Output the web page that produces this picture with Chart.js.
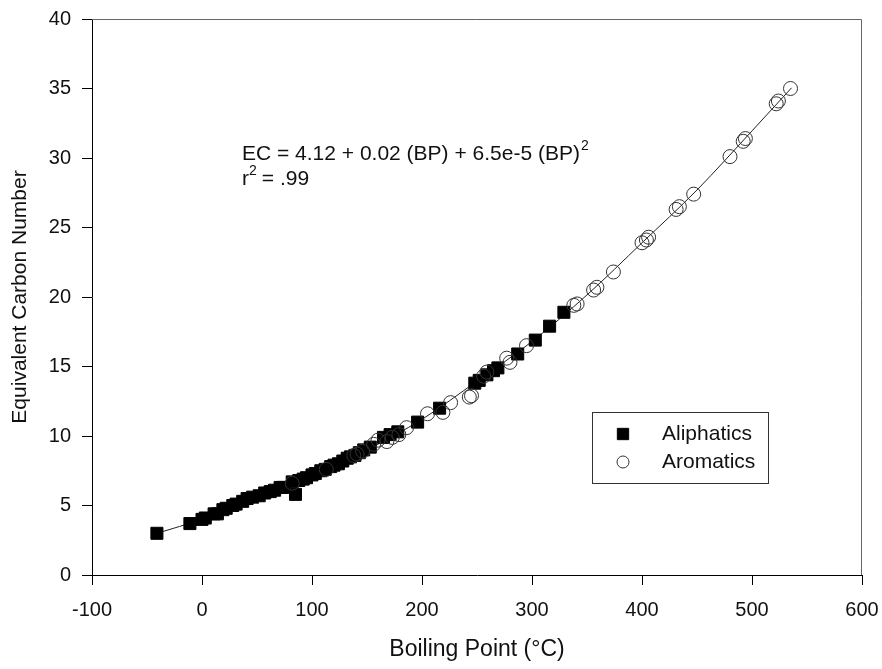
<!DOCTYPE html>
<html>
<head>
<meta charset="utf-8">
<script src="https://cdn.jsdelivr.net/npm/chart.js@4/dist/chart.umd.min.js"></script>
<style>
  html, body { margin: 0; padding: 0; background: #fff; }
</style>
</head>
<body>
<canvas id="chart" width="882" height="669"></canvas>
<script>
// Boiling point (°C) vs equivalent carbon number
const aliphatics = [
  [-41, 3.0], [-11, 3.7], [0, 4.0], [3, 4.1], [11, 4.4], [14, 4.4], [19, 4.7], [22, 4.8],
  [28, 5.0], [31, 5.1], [37, 5.3], [41, 5.5], [46, 5.6], [52, 5.7], [57, 5.9], [62, 6.0],
  [66, 6.1], [71, 6.3], [74, 6.3], [82, 6.7], [85, 5.8], [88, 6.8], [92, 6.9], [95, 7.0],
  [100, 7.2], [103, 7.3], [108, 7.5], [112, 7.6], [117, 7.8], [120, 7.9], [124, 8.0], [128, 8.2],
  [132, 8.4], [135, 8.5], [139, 8.6], [143, 8.8], [147, 9.0], [153, 9.2], [165, 9.9], [171, 10.1],
  [178, 10.3], [196, 11.0], [216, 12.0], [248, 13.8], [252, 14.0], [259, 14.4], [265, 14.7], [269, 14.9],
  [287, 15.9], [303, 16.9], [316, 17.9], [329, 18.9]
];
const aromatics = [
  [82, 6.6], [113, 7.6], [138, 8.6], [141, 8.7], [146, 8.9], [156, 9.4], [160, 9.7], [168, 9.6],
  [173, 9.9], [179, 10.1], [186, 10.6], [205, 11.6], [219, 11.7], [226, 12.4], [243, 12.8], [245, 12.9],
  [256, 14.3], [259, 14.6], [277, 15.6], [280, 15.3], [295, 16.5], [338, 19.4], [341, 19.5], [356, 20.5],
  [359, 20.7], [374, 21.8], [400, 23.9], [404, 24.1], [406, 24.3], [431, 26.3], [434, 26.5], [447, 27.4],
  [480, 30.1], [492, 31.2], [494, 31.4], [522, 33.9], [524, 34.1], [535, 35.0]
];
// regression curve as drawn in the figure
const fitCurve = [
  [-41, 3.0], [0, 4.0], [50, 5.45], [100, 7.05], [150, 9.0], [200, 11.2], [250, 13.95],
  [300, 16.8], [350, 20.15], [400, 23.9], [450, 27.7], [500, 31.95], [536, 35.05]
];
const xTicks = [-100, 0, 100, 200, 300, 400, 500, 600];
const yTicks = [0, 5, 10, 15, 20, 25, 30, 35, 40];
const equationLines = ['EC = 4.12 + 0.02 (BP) + 6.5e-5 (BP)', 'r', ' = .99'];

const FONT = '"Liberation Sans", Arial, Helvetica, sans-serif';
const toXY = arr => arr.map(([x, y]) => ({ x, y }));

const framePlugin = {
  id: 'frame',
  afterDatasetsDraw(chart) {
    const { ctx, chartArea: a } = chart;
    ctx.save();
    ctx.strokeStyle = '#666';
    ctx.lineWidth = 1;
    ctx.beginPath();
    ctx.moveTo(a.left, a.top + 0.5);
    ctx.lineTo(a.right - 0.5, a.top + 0.5);
    ctx.lineTo(a.right - 0.5, a.bottom);
    ctx.stroke();
    ctx.restore();
  }
};

const notesPlugin = {
  id: 'notes',
  afterDraw(chart) {
    const { ctx } = chart;
    ctx.save();
    ctx.fillStyle = '#111';
    ctx.textBaseline = 'alphabetic';
    ctx.textAlign = 'left';
    // equation
    const ex = 242, ey = 160;
    ctx.font = '21px ' + FONT;
    ctx.fillText(equationLines[0], ex, ey);
    let w = ctx.measureText(equationLines[0]).width;
    ctx.font = '14px ' + FONT;
    ctx.fillText('2', ex + w + 1, ey - 10);
    ctx.font = '21px ' + FONT;
    ctx.fillText(equationLines[1], ex, ey + 25);
    w = ctx.measureText(equationLines[1]).width;
    ctx.font = '14px ' + FONT;
    ctx.fillText('2', ex + w, ey + 25 - 10);
    ctx.font = '21px ' + FONT;
    ctx.fillText(equationLines[2], ex + w + 7, ey + 25);

    // legend box
    const bx = 592, by = 412, bw = 176, bh = 71;
    ctx.strokeStyle = '#333';
    ctx.lineWidth = 1;
    ctx.strokeRect(bx + 0.5, by + 0.5, bw, bh);
    chart.data.datasets.filter(d => d.inLegend).forEach((d, i) => {
      const y = by + 22 + i * 28;
      ctx.fillStyle = d.pointStyle === 'rect' ? d.backgroundColor : '#fff';
      ctx.strokeStyle = d.borderColor;
      ctx.lineWidth = d.borderWidth;
      ctx.beginPath();
      if (d.pointStyle === 'rect') {
        const s = d.legendRadius * Math.SQRT1_2;
        ctx.rect(bx + 31 - s, y - s, 2 * s, 2 * s);
      } else {
        ctx.arc(bx + 31, y, d.legendRadius, 0, Math.PI * 2);
      }
      ctx.fill();
      ctx.stroke();
      ctx.fillStyle = '#111';
      ctx.font = '21px ' + FONT;
      ctx.textBaseline = 'middle';
      ctx.fillText(d.label, bx + 70, y);
    });
    ctx.restore();
  }
};

new Chart(document.getElementById('chart').getContext('2d'), {
  type: 'scatter',
  data: {
    datasets: [
      {
        type: 'line',
        label: 'Fit',
        data: toXY(fitCurve),
        borderColor: '#222',
        borderWidth: 1,
        pointRadius: 0,
        fill: false,
        cubicInterpolationMode: 'monotone',
        order: 3
      },
      {
        label: 'Aliphatics',
        inLegend: true,
        data: toXY(aliphatics),
        pointStyle: 'rect',
        pointRadius: 8.5,
        legendRadius: 8,
        backgroundColor: '#000',
        borderColor: '#000',
        borderWidth: 1,
        order: 2
      },
      {
        label: 'Aromatics',
        inLegend: true,
        data: toXY(aromatics),
        pointStyle: 'circle',
        pointRadius: 7,
        legendRadius: 6,
        backgroundColor: 'rgba(0,0,0,0)',
        borderColor: '#333',
        borderWidth: 1,
        order: 1
      }
    ]
  },
  options: {
    responsive: false,
    animation: false,
    layout: { padding: { top: 19, right: 20, left: 0, bottom: 0 } },
    plugins: {
      legend: { display: false },
      tooltip: { enabled: false }
    },
    scales: {
      x: {
        type: 'linear',
        min: -100,
        max: 600,
        afterBuildTicks: s => { s.ticks = xTicks.map(v => ({ value: v })); },
        afterFit: s => { s.height = 94; s.paddingLeft = 0; s.paddingRight = 0; },
        grid: { drawOnChartArea: false, tickLength: 10, color: '#000' },
        border: { color: '#000', width: 1 },
        ticks: { color: '#111', padding: 13, font: { family: FONT, size: 20 } },
        title: {
          display: true,
          text: 'Boiling Point (°C)',
          color: '#111',
          padding: { top: 0, bottom: 6 },
          font: { family: FONT, size: 23 }
        }
      },
      y: {
        type: 'linear',
        min: 0,
        max: 40,
        afterBuildTicks: s => { s.ticks = yTicks.map(v => ({ value: v })); },
        afterFit: s => { s.width = 92; s.paddingTop = 0; s.paddingBottom = 0; },
        grid: { drawOnChartArea: false, tickLength: 10, color: '#000' },
        border: { color: '#000', width: 1 },
        ticks: { color: '#111', padding: 11, font: { family: FONT, size: 20 } },
        title: {
          display: true,
          text: 'Equivalent Carbon Number',
          color: '#111',
          padding: { top: 8, bottom: 0 },
          font: { family: FONT, size: 21 }
        }
      }
    }
  },
  plugins: [framePlugin, notesPlugin]
});
</script>
</body>
</html>
